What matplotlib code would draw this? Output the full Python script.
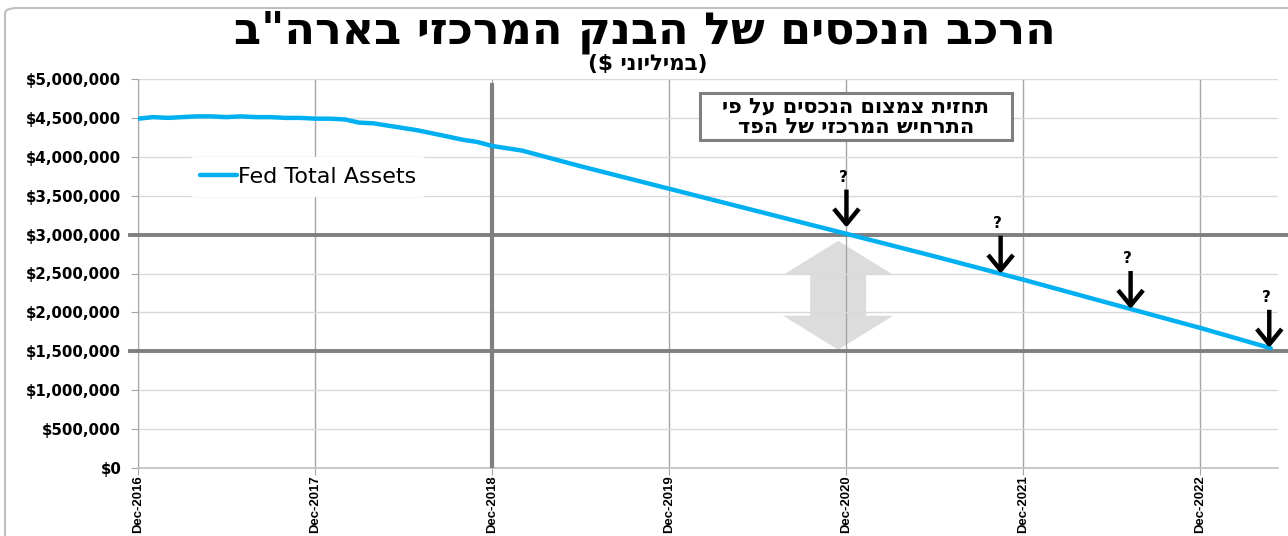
import matplotlib
matplotlib.use('Agg')
import matplotlib.pyplot as plt
import matplotlib.dates as mdates
import matplotlib.ticker as mticker
from matplotlib.patches import Polygon, Rectangle, FancyBboxPatch
from matplotlib.transforms import IdentityTransform
import pandas as pd
import numpy as np

# ---------------- data ----------------
title_he = 'הרכב הנכסים של הבנק המרכזי בארה"ב'
subtitle_word_he = 'במיליוני'
box_lines_he = ['תחזית צמצום הנכסים על פי', 'התרחיש המרכזי של הפד']
series_name = 'Fed Total Assets'

dates = ['2016-12-01', '2017-01-01', '2017-02-01', '2017-03-01', '2017-04-01',
         '2017-05-01', '2017-06-01', '2017-07-01', '2017-08-01', '2017-09-01',
         '2017-10-01', '2017-11-01', '2017-12-01', '2018-01-01', '2018-02-01',
         '2018-03-01', '2018-04-01', '2018-05-01', '2018-06-01', '2018-07-01',
         '2018-08-01', '2018-09-01', '2018-10-01', '2018-11-01', '2018-12-01',
         '2019-01-01', '2019-02-01', '2019-06-01', '2019-12-01', '2020-06-01',
         '2020-12-01', '2021-06-01', '2021-12-01', '2022-06-01', '2022-12-01',
         '2023-04-25']
assets = [4490000, 4510000, 4500000, 4510000, 4520000,
          4520000, 4510000, 4520000, 4510000, 4510000,
          4500000, 4500000, 4490000, 4490000, 4480000,
          4440000, 4430000, 4400000, 4370000, 4340000,
          4300000, 4260000, 4220000, 4190000, 4140000,
          4110000, 4080000, 3880000, 3590000, 3300000,
          3010000, 2720000, 2420000, 2110000, 1800000,
          1540000]

tick_dates = ['2016-12-01', '2017-12-01', '2018-12-01', '2019-12-01',
              '2020-12-01', '2021-12-01', '2022-12-01']
tick_labels = ['Dec-2016', 'Dec-2017', 'Dec-2018', 'Dec-2019',
               'Dec-2020', 'Dec-2021', 'Dec-2022']
y_ticks = [0, 500000, 1000000, 1500000, 2000000, 2500000,
           3000000, 3500000, 4000000, 4500000, 5000000]
ref_levels = [3000000, 1500000]
qt_start = '2018-12-01'
mark_dates = ['2020-12-01', '2021-10-15', '2022-07-10', '2023-04-22']
range_date = '2020-11-14'
range_top, range_bottom = 2920000, 1520000
x_end = '2023-05-10'

# ---------------- figure ----------------
W, H, DPI = 1288, 536, 100
fig = plt.figure(figsize=(W / DPI, H / DPI), dpi=DPI)

def fx(px):
    return px / W

def fy(py):
    return 1 - py / H

L, R, T, B = 138, 1278, 79, 468
ax = fig.add_axes([fx(L), fy(B), fx(R - L), fy(T) - fy(B)])

d = pd.to_datetime(dates)
xnum = mdates.date2num(d)
blue = '#00B0F0'
ax.plot(xnum, assets, color=blue, lw=3.2, solid_capstyle='round',
        label=series_name, zorder=4)

ax.set_xlim(mdates.date2num(pd.Timestamp(tick_dates[0])),
            mdates.date2num(pd.Timestamp(x_end)))
ax.set_ylim(0, 5000000)
ax.set_yticks(y_ticks)
ax.yaxis.set_major_formatter(mticker.FuncFormatter(lambda v, p: '${:,.0f}'.format(v)))
tnum = mdates.date2num(pd.to_datetime(tick_dates))
ax.set_xticks(tnum)
ax.set_xticklabels(tick_labels, rotation=90, fontsize=9, fontweight='bold',
                   family=['Liberation Sans', 'DejaVu Sans'])
for lab in ax.get_yticklabels():
    lab.set_fontsize(10.8)
    lab.set_fontweight('bold')
    lab.set_family('DejaVu Sans')

ax.grid(axis='y', color='#d9d9d9', lw=1.0)
ax.grid(axis='x', color='#a6a6a6', lw=1.0)
for s in ['top', 'right']:
    ax.spines[s].set_visible(False)
ax.spines['left'].set_color('#a6a6a6')
ax.spines['bottom'].set_color('#bfbfbf')
ax.spines['bottom'].set_linewidth(1.2)
ax.tick_params(axis='y', length=5, color='#a6a6a6', pad=7)
ax.tick_params(axis='x', length=5, color='#a6a6a6', pad=0.5)

# fit x tick label length to ~58 px
fig.canvas.draw()
rend = fig.canvas.get_renderer()
lab0 = ax.get_xticklabels()[0]
hgt = lab0.get_window_extent(rend).height
if hgt > 0:
    new_size = 9 * 58.0 / hgt
    for lab in ax.get_xticklabels():
        lab.set_fontsize(new_size)

# reference levels
for lvl in ref_levels:
    ax.axhline(lvl, xmin=(130 - L) / (R - L), xmax=(W - L) / (R - L),
               color='#7f7f7f', lw=2.8, clip_on=False, zorder=3)
# QT start vertical line
ax.axvline(mdates.date2num(pd.Timestamp(qt_start)), ymin=0, ymax=(B - 85) / (B - T),
           color='#7f7f7f', lw=3.0, zorder=3)

# gray double arrow (range)
fig.canvas.draw()
xc = ax.transData.transform((mdates.date2num(pd.Timestamp(range_date)), 0))[0]
yt = ax.transData.transform((0, range_top))[1]
yb = ax.transData.transform((0, range_bottom))[1]
hh = 34  # head height px
hw = 55  # half head width px
sw = 28  # half shaft width px
verts = [(xc, yt), (xc + hw, yt - hh), (xc + sw, yt - hh), (xc + sw, yb + hh),
         (xc + hw, yb + hh), (xc, yb), (xc - hw, yb + hh), (xc - sw, yb + hh),
         (xc - sw, yt - hh), (xc - hw, yt - hh)]
poly = Polygon(verts, closed=True, transform=IdentityTransform(),
               facecolor='#dcdcdc', edgecolor='none', zorder=0.5)
ax.add_artist(poly)

# arrows with question marks
mnum = mdates.date2num(pd.to_datetime(mark_dates))
for k, m in enumerate(mnum):
    v = np.interp(m, xnum, assets)
    if k == 0:
        v += 80000
    ax.annotate('', xy=(m, v), xytext=(0, 38), textcoords='offset pixels',
                arrowprops=dict(arrowstyle='->,head_length=0.55,head_width=0.45',
                                color='black', lw=3.2, mutation_scale=20,
                                shrinkA=0, shrinkB=0, capstyle='butt'),
                zorder=6, annotation_clip=False)
    ax.annotate('?', xy=(m, v), xytext=(-3, 50), textcoords='offset pixels',
                ha='center', va='center', fontsize=11, fontweight='bold',
                family='DejaVu Sans', zorder=6, annotation_clip=False)

# legend
leg = ax.legend(loc='center left',
                bbox_to_anchor=((190 - L) / (R - L), 1 - (177 - T) / (B - T)),
                frameon=True, handlelength=1.65, handletextpad=0.05,
                borderpad=0.45, borderaxespad=0,
                prop={'family': 'DejaVu Sans', 'size': 16})
leg.get_frame().set_edgecolor('none')
leg.get_frame().set_facecolor('white')
leg.get_frame().set_alpha(1)

# annotation box
fig.patches.append(Rectangle((fx(700), fy(140)), fx(312), fy(93) - fy(140),
                             transform=fig.transFigure, facecolor='white',
                             edgecolor='#7f7f7f', lw=2.2, zorder=5))
for i, txt in enumerate(box_lines_he):
    fig.text(fx(856), fy(106 + 21 * i), txt[::-1], ha='center', va='center',
             fontsize=15, fontweight='bold', family='DejaVu Sans', zorder=6)

# titles
fig.text(fx(645), fy(32), title_he[::-1], ha='center', va='center',
         fontsize=32, fontweight='bold', family='DejaVu Sans')
fig.text(fx(648), fy(64), '($ ' + subtitle_word_he[::-1] + ')', ha='center', va='center',
         fontsize=15.5, fontweight='bold', family='DejaVu Sans')

# chart border
fig.patches.append(FancyBboxPatch((fx(5), fy(H + 20)), fx(W + 20), fy(8) - fy(H + 20),
                                  boxstyle='round,pad=0,rounding_size=0.01',
                                  transform=fig.transFigure, facecolor='none',
                                  edgecolor='#bfbfbf', lw=1.5))

fig.savefig('out.png', dpi=DPI)
